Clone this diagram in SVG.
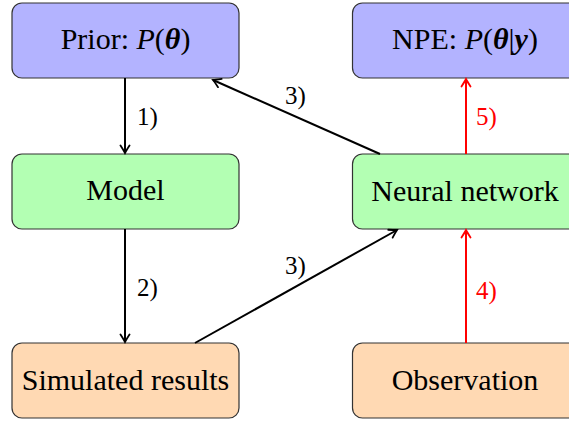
<svg xmlns="http://www.w3.org/2000/svg" width="569" height="423" viewBox="0 0 569 423">
<style>
.box{stroke:#333;stroke-width:1.2}
.blue{fill:#b3b3ff}
.green{fill:#b3ffb3}
.orange{fill:#ffd9b3}
text{font-family:"Liberation Serif","DejaVu Serif",serif;fill:#000}
.t{font-size:30px;text-anchor:middle}
.lbl{font-size:25px}
text.red{fill:#ff0000}
.bi{font-style:italic;font-weight:bold}
.it{font-style:italic}
.e{fill:none;stroke-width:2}
.k{stroke:#000}
.r{stroke:#ff0000}
</style>
<defs>
<marker id="ak" viewBox="-10 -6 12 12" refX="0" refY="0" markerWidth="12" markerHeight="12" markerUnits="userSpaceOnUse" orient="auto">
<path d="M-7.5,-4.5 Q-2,-1 0,0 Q-2,1 -7.5,4.5" fill="none" stroke="#000" stroke-width="1.8" stroke-linecap="round"/>
</marker>
<marker id="ar" viewBox="-10 -6 12 12" refX="0" refY="0" markerWidth="12" markerHeight="12" markerUnits="userSpaceOnUse" orient="auto">
<path d="M-7.5,-4.5 Q-2,-1 0,0 Q-2,1 -7.5,4.5" fill="none" stroke="#ff0000" stroke-width="1.8" stroke-linecap="round"/>
</marker>
</defs>
<g id="prior"><rect class="box blue" x="12" y="3" width="227" height="75" rx="10"/><text class="t" x="125.5" y="49">Prior: <tspan class="it">P</tspan>(<tspan class="bi">θ</tspan>)</text></g>
<g id="npe"><rect class="box blue" x="352.5" y="3" width="230" height="75" rx="10"/><text class="t" x="465" y="49">NPE: <tspan class="it">P</tspan>(<tspan class="bi">θ</tspan>|<tspan class="bi">y</tspan>)</text></g>
<g id="model"><rect class="box green" x="12" y="154" width="227" height="75" rx="10"/><text class="t" x="125.5" y="200">Model</text></g>
<g id="nn"><rect class="box green" x="352.5" y="154" width="230" height="75" rx="10"/><text class="t" x="465" y="201">Neural network</text></g>
<g id="sim"><rect class="box orange" x="12" y="343" width="227" height="75" rx="10"/><text class="t" x="125.5" y="390">Simulated results</text></g>
<g id="obs"><rect class="box orange" x="352.5" y="343" width="230" height="75" rx="10"/><text class="t" x="465" y="390">Observation</text></g>
<g id="connectors">
<line class="e k" x1="125" y1="78" x2="125" y2="153" marker-end="url(#ak)"/>
<text class="lbl" x="137" y="125">1)</text>
<line class="e k" x1="125" y1="229" x2="125" y2="342" marker-end="url(#ak)"/>
<text class="lbl" x="137" y="296">2)</text>
<line class="e k" x1="195" y1="343" x2="397" y2="230" marker-end="url(#ak)"/>
<text class="lbl" x="285" y="274">3)</text>
<line class="e k" x1="380" y1="154" x2="213" y2="80" marker-end="url(#ak)"/>
<text class="lbl" x="285" y="104">3)</text>
<line class="e r" x1="466" y1="343" x2="466" y2="230" marker-end="url(#ar)"/>
<text class="lbl red" x="476" y="299">4)</text>
<line class="e r" x1="466" y1="154" x2="466" y2="79" marker-end="url(#ar)"/>
<text class="lbl red" x="476" y="125">5)</text>
</g>
</svg>
